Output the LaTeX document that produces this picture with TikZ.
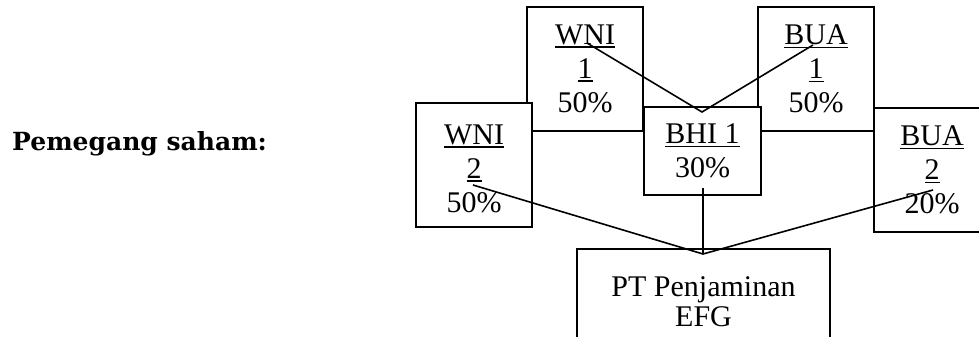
\documentclass[tikz,border=0pt]{standalone}
\usepackage{fontspec}
\setmainfont{Liberation Serif}
\newfontfamily\lblfont{DejaVu Serif}
\newcommand\myul[1]{\setbox0\hbox{#1}\rlap{\rule[-3.2pt]{\wd0}{1.4pt}}\box0}
\newcommand\mystrut[1]{\rule{0pt}{#1pt}}
\begin{document}
\begin{tikzpicture}[x=1pt,y=-1pt,
  box/.style={draw,fill=white,line width=1.6pt,minimum width=116pt,minimum height=124pt,
    inner sep=0pt,align=center,font=\fontsize{30}{34}\selectfont},
  link/.style={line width=1.6pt}]
\useasboundingbox (0,0) rectangle (979,337);
\clip (0,0) rectangle (979,337);
\node[anchor=base west,inner sep=0pt,font=\lblfont\bfseries\fontsize{25}{30}\selectfont] (title) at (12,150) {Pemegang saham:};
\node[box] (wni1) at (585,69) {\myul{WNI}\\\myul{1}\\50\%};
\node[box] (bua1) at (816,69) {\myul{BUA}\\\myul{1}\\50\%};
\node[box] (wni2) at (474,165) {\mystrut{27}\myul{WNI}\\\myul{2}\\50\%};
\node[box,minimum width=117pt,minimum height=88pt] (bhi1) at (702.5,151) {\myul{BHI 1}\\30\%};
\node[box] (bua2) at (932,170) {\myul{BUA}\\\myul{2}\\20\%};
\node[box,minimum width=253pt,minimum height=105pt,font=\fontsize{30}{30}\selectfont] (pt) at (703.5,301.5) {PT Penjaminan\\EFG};
\coordinate (w1) at (587,43);
\coordinate (b1) at (813,45);
\coordinate (j1) at (702,112);
\coordinate (h1) at (703,188);
\coordinate (j2) at (703,254);
\coordinate (w2) at (473,185);
\coordinate (b2) at (933,190);
\draw[link] (w1) -- (j1) -- (b1);
\draw[link] (w2) -- (j2) -- (b2);
\draw[link] (h1) -- (j2);
\end{tikzpicture}
\end{document}
